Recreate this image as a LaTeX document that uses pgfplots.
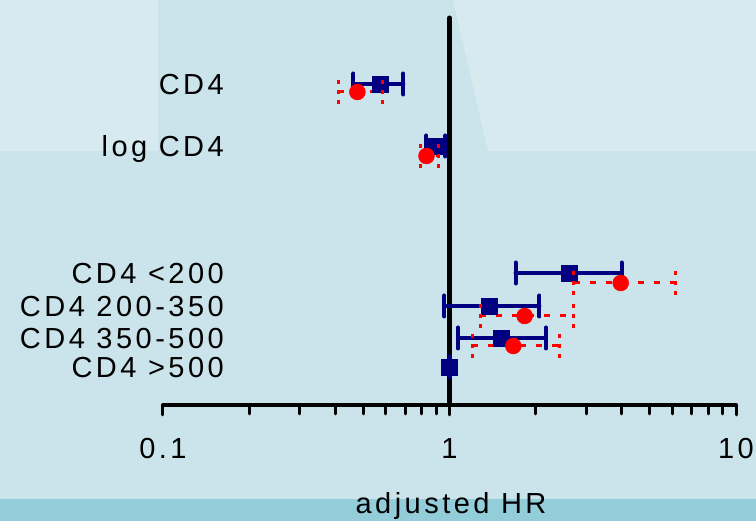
\documentclass[border=0pt]{standalone}
\usepackage{fontspec}
\setmainfont{Liberation Sans}[LetterSpace=12]
\usepackage{pgfplots}
\pgfplotsset{compat=1.18}
\definecolor{bgmain}{RGB}{203,227,234}
\definecolor{bglight}{RGB}{214,234,240}
\definecolor{bgstrip}{RGB}{148,205,218}
\definecolor{navy}{RGB}{0,0,128}
\newcommand\bigfont{\fontsize{29pt}{34pt}\selectfont}
\begin{document}
\begin{tikzpicture}[x=1pt,y=1pt]
\useasboundingbox (0,0) rectangle (756,521);
\fill[bgmain] (0,0) rectangle (756,521);
\fill[bglight] (0,521) -- (158,521) -- (158,370) -- (0,370) -- cycle;
\fill[bglight] (453,521) -- (756,521) -- (756,370) -- (488,370) -- cycle;
\fill[bgstrip] (0,0) rectangle (756,22);
\begin{axis}[
  at={(163pt,116pt)}, anchor=south west, scale only axis,
  width=573pt, height=387pt,
  xmode=log, xmin=0.1, xmax=10, ymin=116, ymax=503,
  axis x line*=bottom, axis y line=none,
  x axis line style={-, line width=4pt, line cap=round},
  xtick={0.1,1,10}, xticklabels={0.1,1,10},
  minor xtick={0.2,0.3,0.4,0.5,0.6,0.7,0.8,0.9,2,3,4,5,6,7,8,9},
  xtick align=outside, major tick length=10pt, minor tick length=9pt,
  tick style={black, line width=3pt, line cap=round},
  minor tick style={black, line width=3pt, line cap=round},
  xticklabel style={font=\bigfont, anchor=base, yshift=-44pt},
  /pgf/number format/assume math mode=true,
  clip=false,
]
% reference line at HR = 1
\addplot[black, line width=5pt, line cap=round] coordinates {(1,116) (1,503)};
% blue: confidence intervals
\addplot[navy, line width=4pt, line cap=round, mark=|, mark size=10.5pt] coordinates {(0.462,437) (0.690,437)};
\addplot[navy, line width=4pt, line cap=round, mark=|, mark size=10.5pt] coordinates {(0.831,375) (0.968,375)};
\addplot[navy, line width=4pt, line cap=round, mark=|, mark size=10.5pt] coordinates {(1.70,248) (3.99,248)};
\addplot[navy, line width=4pt, line cap=round, mark=|, mark size=10.5pt] coordinates {(0.96,215) (2.06,215)};
\addplot[navy, line width=4pt, line cap=round, mark=|, mark size=10.5pt] coordinates {(1.07,183) (2.17,183)};
\addplot[navy, line width=4pt, line cap=round, mark=|, mark size=10.5pt] coordinates {(1,154) (1,154)};
% blue: estimates
\addplot[only marks, mark=square*, mark size=8pt, navy, mark options={rounded corners=2pt}] coordinates {(0.574,437) (0.893,375) (2.61,248) (1.38,215) (1.51,183) (1,154)};
% red: confidence intervals
\addplot[red, line width=3pt, dash pattern=on 6pt off 10pt, mark=|, mark size=12pt, mark options={dash pattern=on 4pt off 6pt}] coordinates {(0.409,429) (0.583,429)};
\addplot[red, line width=3pt, dash pattern=on 6pt off 10pt, mark=|, mark size=12pt, mark options={dash pattern=on 4pt off 6pt}] coordinates {(0.792,365) (0.915,365)};
\addplot[red, line width=3pt, dash pattern=on 6pt off 10pt, mark=|, mark size=12pt, mark options={dash pattern=on 4pt off 6pt}] coordinates {(2.71,238) (6.17,238)};
\addplot[red, line width=3pt, dash pattern=on 6pt off 10pt, mark=|, mark size=12pt, mark options={dash pattern=on 4pt off 6pt}] coordinates {(1.28,205) (2.71,205)};
\addplot[red, line width=3pt, dash pattern=on 6pt off 10pt, mark=|, mark size=12pt, mark options={dash pattern=on 4pt off 6pt}] coordinates {(1.20,175) (2.42,175)};
% red: estimates
\addplot[only marks, mark=*, mark size=8pt, red] coordinates {(0.477,429) (0.831,365) (3.96,238) (1.83,205) (1.67,175)};
\end{axis}
\begin{scope}[every node/.style={font=\bigfont, inner sep=0pt}]
\node[anchor=base east] at (224,426) {CD4};
\node[anchor=base east] at (224,364) {log CD4};
\node[anchor=base east] at (224,237) {CD4 <200};
\node[anchor=base east] at (224,204) {CD4 200-350};
\node[anchor=base east] at (224,172) {CD4 350-500};
\node[anchor=base east] at (224,143) {CD4 >500};
\node[anchor=base] at (451,7) {adjusted HR};
\end{scope}
\end{tikzpicture}
\end{document}
